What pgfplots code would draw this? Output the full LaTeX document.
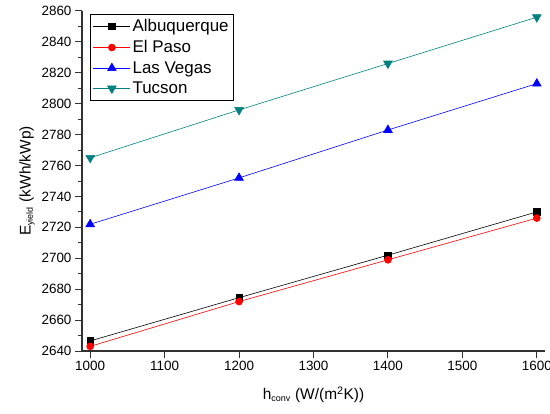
\documentclass[border=0pt]{standalone}
\usepackage{pgfplots}
\pgfplotsset{compat=1.18}
\usepackage{fontspec}
\setmainfont{Liberation Sans}
\definecolor{teal2}{RGB}{0,128,128}
\definecolor{axgray}{RGB}{50,50,50}
\begin{document}
\begin{tikzpicture}
\path[use as bounding box] (-82bp,-63bp) rectangle (468bp,351bp);
\begin{axis}[
  at={(0,0)}, anchor=south west,
  scale only axis, width=463bp, height=340bp,
  xmin=989, xmax=1611, ymin=2640, ymax=2860,
  axis x line*=bottom, axis y line*=left,
  axis line style={axgray, line width=1.2pt},
  xtick={1000,1100,...,1600},
  ytick={2640,2660,...,2860},
  minor y tick num=1,
  tick align=outside,
  major tick length=7bp, minor tick length=4bp,
  tick style={axgray, line width=1pt},
  /pgf/number format/assume math mode=true,
  /pgf/number format/set thousands separator={},
  ticklabel style={font=\fontsize{13.5}{15}\selectfont},
  xlabel={h\textsubscript{\fontsize{9}{10}\selectfont conv} (W/(m\textsuperscript{2}K))},
  ylabel={E\textsubscript{\fontsize{9}{10}\selectfont yield} (kWh/kWp)},
  label style={font=\fontsize{15.5}{17}\selectfont},
  xlabel style={yshift=-9bp},
  ylabel style={yshift=0bp},
  legend style={at={(0.017,0.99)}, anchor=north west, draw=black, line width=0.6pt,
    font=\fontsize{17}{19}\selectfont, row sep=3.2bp, inner xsep=3bp, inner ysep=3bp},
  legend cell align=left,
  legend image code/.code={
    \draw[mark repeat=2,mark phase=2,#1] plot coordinates {(0cm,0cm) (0.65cm,0cm) (1.3cm,0cm)};},
  legend image post style={line width=0.6pt},
]
\addplot[black, line width=0.6pt, mark=square*, mark size=3.2bp] coordinates {(1000,2646.5) (1200,2674.5) (1400,2702) (1600,2730)};
\addlegendentry{Albuquerque}
\addplot[red, line width=0.6pt, mark=*, mark size=3.5bp] coordinates {(1000,2643) (1200,2672) (1400,2699) (1600,2726)};
\addlegendentry{El Paso}
\addplot[blue, line width=0.6pt, mark=triangle*, mark size=5bp] coordinates {(1000,2722) (1200,2752) (1400,2783) (1600,2813)};
\addlegendentry{Las Vegas}
\addplot[teal2, line width=0.6pt, mark=triangle*, mark size=5bp, mark options={rotate=180}] coordinates {(1000,2765) (1200,2796) (1400,2826) (1600,2856)};
\addlegendentry{Tucson}
\end{axis}
\end{tikzpicture}
\end{document}
